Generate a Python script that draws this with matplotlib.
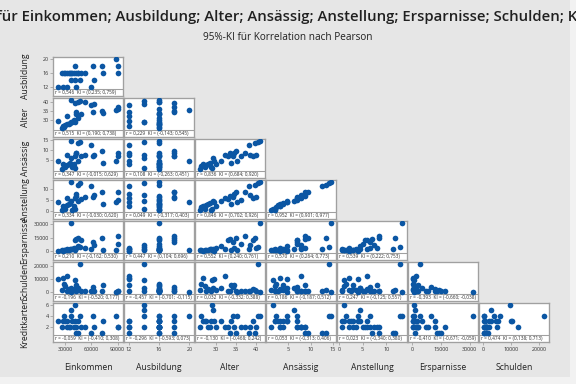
import matplotlib
matplotlib.use('Agg')
import matplotlib.pyplot as plt
from matplotlib.patches import Rectangle

plt.rcParams['font.family'] = ['Open Sans', 'DejaVu Sans']

names = ['Einkommen', 'Ausbildung', 'Alter', 'Ansässig', 'Anstellung',
         'Ersparnisse', 'Schulden', 'Kreditkarten']

# one entry per person (n = 30)
einkommen = [28000, 27000, 30000, 32000, 34000, 35000, 38000, 36000, 21000, 40000,
             45000, 32000, 48000, 42000, 73000, 62000, 42000, 72000, 88000, 90000,
             91000, 59000, 63000, 41000, 44000, 52000, 47000, 37000, 26000, 41000]
ausbildung = [16, 12, 16, 16, 16, 16, 16, 14, 12, 16,
              16, 12, 16, 16, 16, 18, 12, 18, 20, 16,
              18, 12, 14, 18, 16, 16, 14, 16, 16, 14]
alter = [26.4, 26.9, 27.3, 27.7, 28.1, 28.5, 28.8, 29.2, 29.5, 30.0,
         31.2, 32.3, 33.1, 33.5, 33.8, 34.2, 34.6, 35.0, 35.2, 36.2,
         37.3, 38.1, 38.5, 39.2, 39.6, 40.0, 40.4, 41.0, 26.0, 29.0]
ansaessig = [2.3, 3.1, 2.0, 2.6, 3.2, 3.9, 2.0, 6.3, 4.7, 3.1,
             4.7, 7.9, 7.0, 8.7, 3.9, 7.0, 8.7, 9.4, 4.7, 7.0,
             8.7, 12.6, 7.9, 7.0, 13.4, 7.9, 14.2, 14.7, 1.0, 1.5]
anstellung = [1.5, 2.0, 1.0, 2.5, 3.0, 3.5, 0.5, 4.5, 4.0, 2.0,
              4.5, 6.0, 5.5, 7.0, 3.0, 6.5, 8.0, 8.5, 4.0, 5.0,
              8.5, 11.5, 7.5, 6.0, 12.0, 6.5, 13.0, 13.5, 0.5, 1.0]
ersparnisse = [500, 200, 800, 1200, 600, 1800, 2200, 1500, 100, 2500,
               5000, 2000, 12000, 13000, 1000, 10000, 3000, 15000, 1000, 8000,
               17000, 1500, 7000, 12000, 14000, 3000, 4000, 32000, 400, 700]
schulden = [6000, 10500, 4500, 800, 2000, 1200, 500, 3000, 10000, 1500,
            3000, 12500, 1000, 400, 5500, 4000, 5000, 300, 200, 300,
            1000, 1000, 500, 2000, 1800, 600, 22000, 200, 1500, 9500]
kreditkarten = [4, 3, 3, 3, 2, 2, 3, 5, 3, 2,
                3, 2, 2, 1, 3, 4, 2, 1, 4, 2,
                2, 1, 2, 3, 1, 2, 4, 4, 2, 6]

ticks = [[30000, 60000, 90000], [12, 16, 20], [30, 35, 40], [5, 10, 15],
         [0, 5, 10], [0, 15000, 30000], [0, 10000, 20000], [2, 4, 6]]

# Pearson r and 95% CI per panel (row = y variable, column = x variable)
r_vals = [[0.546],
          [0.515, 0.229],
          [0.347, 0.108, 0.836],
          [0.334, 0.049, 0.846, 0.952],
          [0.210, 0.447, 0.552, 0.570, 0.539],
          [-0.196, -0.457, 0.032, 0.186, 0.247, -0.393],
          [-0.059, -0.296, -0.130, 0.053, 0.023, -0.410, 0.474]]
ci_lo = [[0.235],
         [0.190, -0.143],
         [-0.015, -0.263, 0.684],
         [-0.030, -0.317, 0.702, 0.901],
         [-0.162, 0.104, 0.240, 0.264, 0.222],
         [-0.520, -0.701, -0.332, -0.187, -0.125, -0.660],
         [-0.410, -0.593, -0.468, -0.313, -0.340, -0.671, 0.138]]
ci_hi = [[0.759],
         [0.738, 0.545],
         [0.629, 0.451, 0.920],
         [0.620, 0.403, 0.926, 0.977],
         [0.530, 0.696, 0.761, 0.773, 0.753],
         [0.177, -0.115, 0.388, 0.512, 0.557, -0.038],
         [0.308, 0.073, 0.242, 0.406, 0.380, -0.059, 0.713]]

data = [einkommen, ausbildung, alter, ansaessig, anstellung, ersparnisse, schulden, kreditkarten]


def fmt(v):
    return f'{v:.3f}'.replace('.', ',')


def limits(vals, pad=0.07):
    lo, hi = min(vals), max(vals)
    d = (hi - lo) * pad
    return lo - d, hi + d


W, H = 576, 384
bg = '#E6E6E6'
edge = '#A0A0A0'
blue = '#0B56A3'
x0, y0 = 52.5, 56
colw, rowh = 71, 41
gap = 1.5
sf = 8 / 41  # share of the panel used by the r/KI strip

fig = plt.figure(figsize=(6, 4), dpi=96, facecolor='#F2F2F2')
# gray graph region, the outer frame stays lighter
fig.add_artist(Rectangle((0, 1 - 377 / H), 570 / W, 377 / H, transform=fig.transFigure,
                         facecolor=bg, edgecolor='none', zorder=-10))

for i in range(7):
    yv = data[i + 1]
    ylo, yhi = limits(yv)
    ybot = ylo - (yhi - ylo) * sf / (1 - sf)
    for j in range(i + 1):
        xv = data[j]
        left = (x0 + j * colw + gap / 2) / W
        top = y0 + i * rowh + gap / 2
        bottom = 1 - (top + rowh - gap) / H
        ax = fig.add_axes([left, bottom, (colw - gap) / W, (rowh - gap) / H])
        ax.scatter(xv, yv, s=18, color=blue, linewidths=0, zorder=3)
        ax.set_xlim(*limits(xv))
        ax.set_ylim(ybot, yhi)
        ax.axhline(ylo, color=edge, lw=0.8)
        ax.text(0.03, sf / 2 - 0.01,
                f'r = {fmt(r_vals[i][j])}  KI = ({fmt(ci_lo[i][j])}; {fmt(ci_hi[i][j])})',
                transform=ax.transAxes, fontsize=3.6, va='center', ha='left', color='#303030')
        for sp in ax.spines.values():
            sp.set_color(edge)
            sp.set_linewidth(1)
        ax.tick_params(colors=edge, labelcolor='#303030', length=2.5, width=0.6,
                       labelsize=4, pad=1)
        if j == 0:
            ax.set_yticks(ticks[i + 1])
        else:
            ax.set_yticks([])
        if i == 6:
            ax.set_xticks(ticks[j])
        else:
            ax.set_xticks([])

    fig.text(25 / W, 1 - (y0 + i * rowh + rowh / 2) / H, names[i + 1],
             rotation=90, ha='center', va='center', fontsize=6.5, color='#202020')

for j in range(7):
    fig.text((x0 + j * colw + colw / 2) / W, 1 - 367 / H, names[j],
             ha='center', va='center', fontsize=6.5, color='#202020')

fig.text(0.5, 1 - 17 / H, 'Matrixplot für ' + '; '.join(names),
         ha='center', va='center', fontsize=11.2, fontweight='semibold', color='#202020')
fig.text(0.5, 1 - 37 / H, '95%-KI für Korrelation nach Pearson',
         ha='center', va='center', fontsize=7.5, color='#202020')

fig.savefig('out.png', dpi=96, facecolor=fig.get_facecolor())
